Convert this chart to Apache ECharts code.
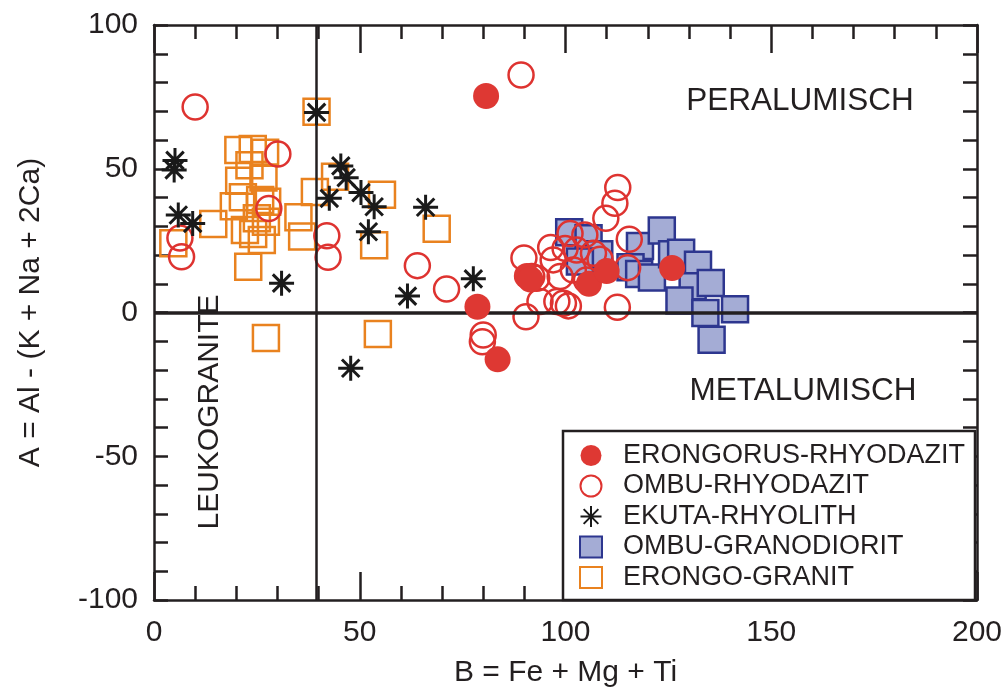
<!DOCTYPE html>
<html>
<head>
<meta charset="utf-8">
<script src="https://cdn.jsdelivr.net/npm/echarts@6/dist/echarts.min.js"></script>
<style>
  html, body { margin: 0; padding: 0; background: #fff; }
  #chart { width: 1006px; height: 688px; }
</style>
</head>
<body>
<div id="chart"></div>
<script>
// [B, A] pairs
const erongorusRhyodazit = [
  [80.7, 75.3], [78.6, 2], [83.5, -16.3], [90.6, 12.7], [91.5, 11.5],
  [105.7, 10], [110, 14.4], [125.9, 15.5]
];
const ombuRhyodazit = [
  [10, 71.5], [89.2, 82.6], [30.1, 55.1], [27.9, 36.2], [6.3, 25.9], [6.7, 19.4],
  [42, 26.7], [42.3, 19.2], [64, 16.3], [71.1, 8.2], [80, -7.8], [79.8, -10.2],
  [89.9, 19], [91.8, 12.5], [90.4, -1.5], [93.8, 3.8], [96.4, 22.6], [97, 18.3],
  [98.7, 12.5], [97.9, 3.8], [99.5, 3.2], [100.7, 2.3], [93, 11.9],
  [99.9, 22.3], [101.1, 27.5], [104.7, 27], [102.7, 21.7], [106.8, 20.6],
  [108.4, 18.5], [101.9, 14.8], [105.1, 11.3],
  [109.8, 32.8], [112, 38], [112.7, 43.5], [115.5, 25.5], [115.1, 15.6], [112.6, 1.8]
];
const ekutaRhyolith = [
  [5.1, 52.9], [4.9, 49.6], [5.9, 33.9], [9.4, 31], [31, 10.2], [39.5, 69.6],
  [45.4, 51], [46.7, 46.9], [42.6, 39.7], [50.3, 41.7], [53.5, 36.8], [52.1, 28.1],
  [66, 36.6], [61.6, 5.7], [77.6, 11.7], [47.8, -19.4]
];
const ombuGranodiorit = [
  [100.9, 27.9], [105.6, 25.8], [108.2, 20.3], [103.5, 17.7], [118.1, 23.1],
  [123.4, 28.5], [115.8, 15.7], [117.9, 13.4], [121, 12.2], [125.9, 20.3],
  [128.1, 20.8], [132.2, 16.6], [130.9, 9.1], [135.3, 10.3], [127.7, 4.2],
  [134, -0.2], [141.2, 1.1], [135.5, -9.5]
];
const erongoGranit = [
  [39.5, 69.8], [20.5, 56.5], [24, 56.9], [27, 55.6], [23.2, 51.2], [20.7, 45.8],
  [26.6, 47], [21.6, 40.1], [19.4, 37], [25.8, 39.1], [27.5, 38.5], [14.4, 30.8],
  [22.1, 28.7], [24.1, 27.3], [26.2, 25.2], [25, 32.8], [27.2, 31.6], [22.9, 15.9],
  [4.7, 24.1], [35.1, 33.1], [36, 26.4], [39.1, 41.9], [44, 47.2], [55.4, 41],
  [68.7, 29.1], [53.5, 23.4], [54.4, -7.5], [27.2, -8.9]
];
const seriesNames = [
  "ERONGORUS-RHYODAZIT",
  "OMBU-RHYODAZIT",
  "EKUTA-RHYOLITH",
  "OMBU-GRANODIORIT",
  "ERONGO-GRANIT"
];
const xRange = [0, 200];
const yRange = [-100, 100];
const leukograniteB = 39.5; // vertical divider
const aluminaZero = 0;      // horizontal divider

const ink = "#231f20";
const font = "Liberation Sans, Arial, sans-serif";
const asterisk = "path://M0,-10L0,10M-10,0L10,0M-7,-7L7,7M-7,7L7,-7";

const chart = echarts.init(document.getElementById("chart"));

function axisBase(extra) {
  return Object.assign({
    type: "value",
    interval: 50,
    axisLine: { show: true, onZero: false, lineStyle: { color: ink, width: 2.5 } },
    axisTick: { show: true, inside: true, length: 28, lineStyle: { color: ink, width: 2.5 } },
    minorTick: { show: true, splitNumber: 5, length: 14, lineStyle: { color: ink, width: 2.5 } },
    splitLine: { show: false },
    axisLabel: { color: ink, fontSize: 30, fontFamily: font, margin: 18 }
  }, extra);
}

const option = {
  animation: false,
  backgroundColor: "#fff",
  grid: { left: 154, right: 29, top: 25, bottom: 88, containLabel: false, outerBoundsMode: "none" },
  xAxis: [
    axisBase({
      min: xRange[0], max: xRange[1], position: "bottom",
      name: "B = Fe + Mg + Ti", nameLocation: "middle", nameGap: 58,
      nameTextStyle: { color: ink, fontSize: 30, fontFamily: font }
    }),
    axisBase({ min: xRange[0], max: xRange[1], position: "top", axisLabel: { show: false } })
  ],
  yAxis: [
    axisBase({
      min: yRange[0], max: yRange[1], position: "left",
      axisTick: { show: true, inside: true, length: 14, lineStyle: { color: ink, width: 2.5 } },
      axisLabel: { color: ink, fontSize: 30, fontFamily: font, margin: 16 },
      name: "A = Al - (K + Na + 2Ca)", nameLocation: "middle", nameGap: 108,
      nameTextStyle: { color: ink, fontSize: 30, fontFamily: font }
    }),
    axisBase({
      min: yRange[0], max: yRange[1], position: "right",
      axisTick: { show: true, inside: true, length: 14, lineStyle: { color: ink, width: 2.5 } },
      axisLabel: { show: false }
    })
  ],
  legend: {
    data: seriesNames,
    orient: "vertical",
    left: 574,
    top: 437,
    itemWidth: 22,
    itemHeight: 21,
    itemGap: 3.5,
    z: 20,
    textStyle: { color: ink, fontSize: 27, fontFamily: font, lineHeight: 27, padding: [0, 0, 0, 16] }
  },
  graphic: [
    {
      type: "rect", z: 10,
      shape: { x: 563, y: 431, width: 412, height: 169 },
      style: { fill: "#fff", stroke: ink, lineWidth: 2.5 }
    },
    {
      type: "text", z: 10, x: 800, y: 101,
      style: { text: "PERALUMISCH", font: "31.5px " + font, fill: ink, align: "center", verticalAlign: "middle" }
    },
    {
      type: "text", z: 10, x: 803, y: 391,
      style: { text: "METALUMISCH", font: "31.5px " + font, fill: ink, align: "center", verticalAlign: "middle" }
    },
    {
      type: "text", z: 10, x: 210, y: 412, rotation: Math.PI / 2,
      style: { text: "LEUKOGRANITE", font: "30px " + font, fill: ink, align: "center", verticalAlign: "middle" }
    }
  ],
  series: [
    {
      name: seriesNames[0], type: "scatter", z: 5,
      data: erongorusRhyodazit, symbol: "circle", symbolSize: 26,
      itemStyle: { color: "#de3833", opacity: 1 }
    },
    {
      name: seriesNames[1], type: "scatter", z: 4,
      data: ombuRhyodazit, symbol: "circle", symbolSize: 25,
      itemStyle: { color: "rgba(255,255,255,0)", borderColor: "#de3330", borderWidth: 2.5, opacity: 1 }
    },
    {
      name: seriesNames[2], type: "scatter", z: 6,
      data: ekutaRhyolith, symbol: asterisk, symbolSize: 25,
      itemStyle: { color: "#1a1a1a", borderColor: "#1a1a1a", borderWidth: 3, opacity: 1 }
    },
    {
      name: seriesNames[3], type: "scatter", z: 3,
      data: ombuGranodiorit, symbol: "rect", symbolSize: 26,
      itemStyle: { color: "#a4acd5", borderColor: "#2d368f", borderWidth: 2.5, opacity: 1 },
      markLine: {
        silent: true, symbol: "none", label: { show: false },
        lineStyle: { color: ink, type: "solid" },
        data: [
          { xAxis: leukograniteB, lineStyle: { width: 2.5, color: ink, type: "solid" } },
          { yAxis: aluminaZero, lineStyle: { width: 3.5, color: ink, type: "solid" } }
        ]
      }
    },
    {
      name: seriesNames[4], type: "scatter", z: 3,
      data: erongoGranit, symbol: "rect", symbolSize: 26,
      itemStyle: { color: "rgba(255,255,255,0)", borderColor: "#e9821f", borderWidth: 2.5, opacity: 1 }
    }
  ]
};

chart.setOption(option);
</script>
</body>
</html>
